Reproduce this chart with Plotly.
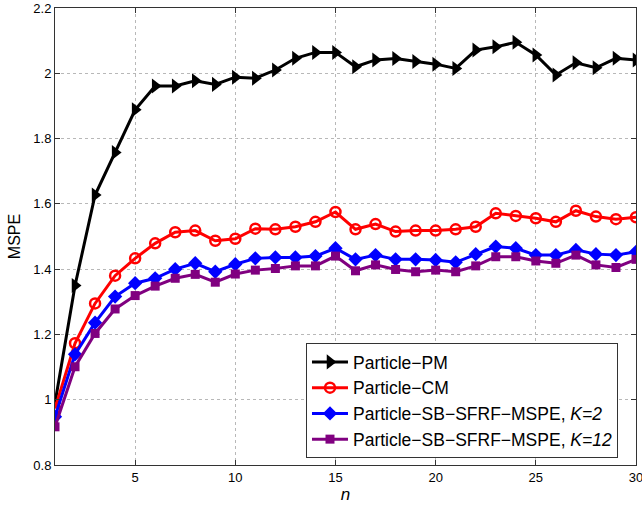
import plotly.graph_objects as go

n = list(range(1, 31))
pm = [0.99, 1.35, 1.627, 1.757, 1.888, 1.961, 1.961, 1.977, 1.966, 1.988,
      1.985, 2.010, 2.046, 2.064, 2.064, 2.020, 2.041, 2.045, 2.036, 2.028,
      2.015, 2.071, 2.081, 2.095, 2.056, 1.995, 2.032, 2.017, 2.046, 2.041]
cm = [0.973, 1.173, 1.295, 1.380, 1.433, 1.479, 1.513, 1.518, 1.487, 1.493,
      1.524, 1.522, 1.530, 1.545, 1.575, 1.522, 1.538, 1.515, 1.518, 1.518,
      1.522, 1.530, 1.571, 1.563, 1.556, 1.545, 1.579, 1.561, 1.553, 1.559]
k2 = [0.948, 1.139, 1.236, 1.316, 1.357, 1.372, 1.400, 1.418, 1.392, 1.415,
      1.433, 1.436, 1.436, 1.440, 1.464, 1.430, 1.443, 1.430, 1.430, 1.428,
      1.421, 1.446, 1.469, 1.464, 1.443, 1.443, 1.459, 1.446, 1.443, 1.453]
k12 = [0.917, 1.101, 1.203, 1.278, 1.319, 1.348, 1.372, 1.384, 1.360, 1.385,
       1.397, 1.402, 1.410, 1.410, 1.440, 1.395, 1.413, 1.399, 1.392, 1.397,
       1.392, 1.410, 1.438, 1.438, 1.425, 1.418, 1.443, 1.413, 1.405, 1.430]

names = ["Particle\u2212PM", "Particle\u2212CM",
         "Particle\u2212SB\u2212SFRF\u2212MSPE, <i>K=2</i>",
         "Particle\u2212SB\u2212SFRF\u2212MSPE, <i>K=12</i>"]
x_ticks = [5, 10, 15, 20, 25, 30]
y_ticks = [0.8, 1.0, 1.2, 1.4, 1.6, 1.8, 2.0, 2.2]
y_ticktext = ["0.8", "1", "1.2", "1.4", "1.6", "1.8", "2", "2.2"]

fig = go.Figure()
fig.add_trace(go.Scatter(x=n, y=pm, name=names[0], mode="lines+markers",
                         line=dict(color="black", width=3),
                         marker=dict(symbol="triangle-right", size=13, color="black")))
fig.add_trace(go.Scatter(x=n, y=cm, name=names[1], mode="lines+markers",
                         line=dict(color="#ff0000", width=3),
                         marker=dict(symbol="circle-open", size=10, color="#ff0000",
                                     line=dict(width=2.5, color="#ff0000"))))
fig.add_trace(go.Scatter(x=n, y=k2, name=names[2], mode="lines+markers",
                         line=dict(color="#0000ff", width=3),
                         marker=dict(symbol="diamond", size=11, color="#0000ff")))
fig.add_trace(go.Scatter(x=n, y=k12, name=names[3], mode="lines+markers",
                         line=dict(color="#800080", width=3),
                         marker=dict(symbol="square", size=9, color="#800080")))

axis_common = dict(showline=True, linecolor="#333333", linewidth=1, mirror="ticks",
                   ticks="inside", ticklen=5, tickcolor="#333333",
                   showgrid=True, gridcolor="#b8b8b8", griddash="dot", gridwidth=1,
                   zeroline=False, automargin=False, ticklabeloverflow="allow",
                   tickfont=dict(size=13, color="black", family="Liberation Sans, Arial"))
fig.update_xaxes(range=[1, 30], tickvals=x_ticks,
                 title=dict(text="<i>n</i>", font=dict(size=17, family="Liberation Sans, Arial"),
                            standoff=2),
                 **axis_common)
fig.update_yaxes(range=[0.8, 2.2], tickvals=y_ticks, ticktext=y_ticktext,
                 title=dict(text="MSPE", font=dict(size=16, family="Liberation Sans, Arial"),
                            standoff=8),
                 **axis_common)

fig.update_layout(
    width=642, height=508,
    margin=dict(l=55, r=6, t=8, b=43),
    paper_bgcolor="white", plot_bgcolor="white",
    font=dict(family="Liberation Sans, Arial", color="black"),
    legend=dict(x=0.432, y=0.0153, xanchor="left", yanchor="bottom",
                bgcolor="white", bordercolor="#333333", borderwidth=1,
                font=dict(size=17.5), tracegroupgap=0, itemwidth=36),
    showlegend=True,
)

fig.write_html("out.html", config={"displayModeBar": False},
               post_script="document.body.style.margin='0';document.body.style.overflow='hidden';")
